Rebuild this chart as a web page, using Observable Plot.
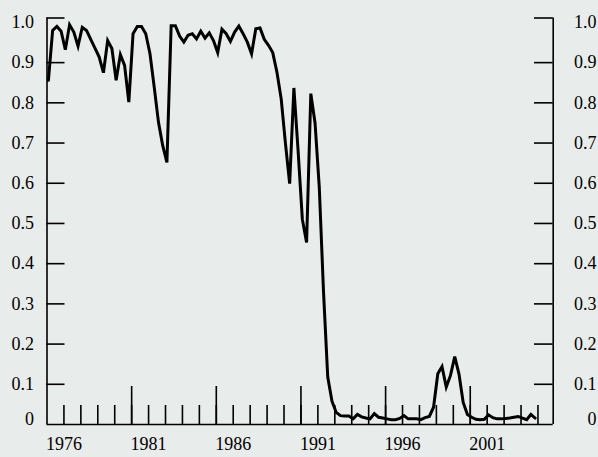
<!DOCTYPE html>
<html>
<head>
<meta charset="utf-8">
<script src="https://cdn.jsdelivr.net/npm/d3@7"></script>
<script src="https://cdn.jsdelivr.net/npm/@observablehq/plot@0.6"></script>
<style>
  html, body { margin: 0; padding: 0; background: #e8ecea; }
  svg text { font-family: "Liberation Serif", "Times New Roman", Times, serif; }
</style>
</head>
<body>
<div id="chart"></div>
<script>
// Quarterly series, first quarter of 1975 onward
const startYear = 1975.083;
const step = 0.25;
const values = [
  0.856, 0.98, 0.99, 0.978, 0.932, 0.994, 0.976, 0.941, 0.988, 0.98,
  0.958, 0.936, 0.914, 0.875, 0.955, 0.935, 0.856, 0.92, 0.893, 0.802,
  0.972, 0.99, 0.99, 0.972, 0.922, 0.839, 0.752, 0.694, 0.652, 0.992,
  0.992, 0.966, 0.951, 0.968, 0.972, 0.959, 0.978, 0.961, 0.974, 0.955,
  0.925, 0.983, 0.972, 0.953, 0.976, 0.991, 0.972, 0.951, 0.922, 0.984,
  0.986, 0.958, 0.943, 0.925, 0.876, 0.81, 0.70, 0.599, 0.837, 0.68,
  0.51, 0.453, 0.823, 0.75, 0.59, 0.33, 0.118, 0.058, 0.03, 0.022,
  0.021, 0.021, 0.014, 0.025, 0.019, 0.016, 0.014, 0.027, 0.018, 0.016,
  0.014, 0.012, 0.012, 0.015, 0.022, 0.014, 0.014, 0.014, 0.012, 0.017,
  0.02, 0.043, 0.126, 0.144, 0.093, 0.122, 0.169, 0.126, 0.055, 0.025,
  0.018, 0.013, 0.012, 0.013, 0.024, 0.017, 0.014, 0.014, 0.015, 0.016,
  0.018, 0.02, 0.016, 0.012, 0.025, 0.016
];
const xDomain = [1975, 2004.9];
const yDomain = [0, 1.011];
const minorYears = [1976,1977,1978,1979,1980,1981,1982,1983,1984,1985,1986,1987,1988,1989,1990,
  1991,1992,1993,1994,1995,1996,1997,1998,1999,2000,2001,2002,2003,2004];
const majorYears = [1980, 1985, 1990, 1995, 2000];
const xLabelYears = [1976, 1981, 1986, 1991, 1996, 2001];
const yTickValues = [0.1, 0.2, 0.3, 0.4, 0.5, 0.6, 0.7, 0.8, 0.9, 1.0];
const yTickLabels = ["0.1","0.2","0.3","0.4","0.5","0.6","0.7","0.8","0.9","1.0"];
const yTickMarks = [0.1, 0.2, 0.3, 0.4, 0.5, 0.6, 0.7, 0.8, 0.9, yDomain[1]];

const data = values.map((v, i) => ({date: startYear + i * step, value: v}));

const W = 598, H = 457;
const mT = 17.5, mB = 33, mL = 46.5, mR = 45.3;
const frameW = W - mL - mR, frameH = H - mT - mB;
const fmtY = d => yTickLabels[yTickValues.indexOf(d)];
const FONT = "Liberation Serif";

const chart = Plot.plot({
  width: W,
  height: H,
  marginTop: mT,
  marginBottom: mB,
  marginLeft: mL,
  marginRight: mR,
  style: {background: "#e8ecea", fontFamily: FONT, fontSize: "18px", color: "black"},
  x: {type: "linear", domain: xDomain, axis: null},
  y: {domain: yDomain, axis: null},
  marks: [
    // frame lines
    Plot.ruleX(xDomain, {stroke: "black", strokeWidth: 1.6}),
    Plot.ruleY([0], {stroke: "black", strokeWidth: 1.6}),
    // inward x ticks
    Plot.ruleX(minorYears, {stroke: "black", strokeWidth: 1.6, insetTop: frameH - 19}),
    Plot.ruleX(majorYears, {stroke: "black", strokeWidth: 1.6, insetTop: frameH - 38}),
    // inward y ticks
    Plot.ruleY(yTickMarks, {stroke: "black", strokeWidth: 1.6, insetRight: frameW - 18}),
    Plot.ruleY(yTickMarks, {stroke: "black", strokeWidth: 1.6, insetLeft: frameW - 18.7}),
    // labels
    Plot.axisX({ticks: xLabelYears, tickSize: 0, tickPadding: 13, label: null, tickFormat: d => String(d), fill: "black", fontFamily: FONT, fontSize: 18}),
    Plot.axisY({anchor: "left", ticks: yTickValues, tickSize: 0, tickPadding: 13, label: null, tickFormat: fmtY, fill: "black", fontFamily: FONT, fontSize: 18}),
    Plot.axisY({anchor: "left", ticks: [0], tickSize: 0, tickPadding: 13, dy: -5, label: null, tickFormat: () => "0", fill: "black", fontFamily: FONT, fontSize: 18}),
    Plot.axisY({anchor: "right", ticks: yTickValues, tickSize: 0, tickPadding: 43.3, textAnchor: "end", label: null, tickFormat: fmtY, fill: "black", fontFamily: FONT, fontSize: 18}),
    Plot.axisY({anchor: "right", ticks: [0], tickSize: 0, tickPadding: 43.3, dy: -5, textAnchor: "end", label: null, tickFormat: () => "0", fill: "black", fontFamily: FONT, fontSize: 18}),
    // series
    Plot.line(data, {x: "date", y: "value", stroke: "black", strokeWidth: 3, strokeLinejoin: "miter", strokeMiterlimit: 4})
  ]
});
document.getElementById("chart").appendChild(chart);
</script>
</body>
</html>
